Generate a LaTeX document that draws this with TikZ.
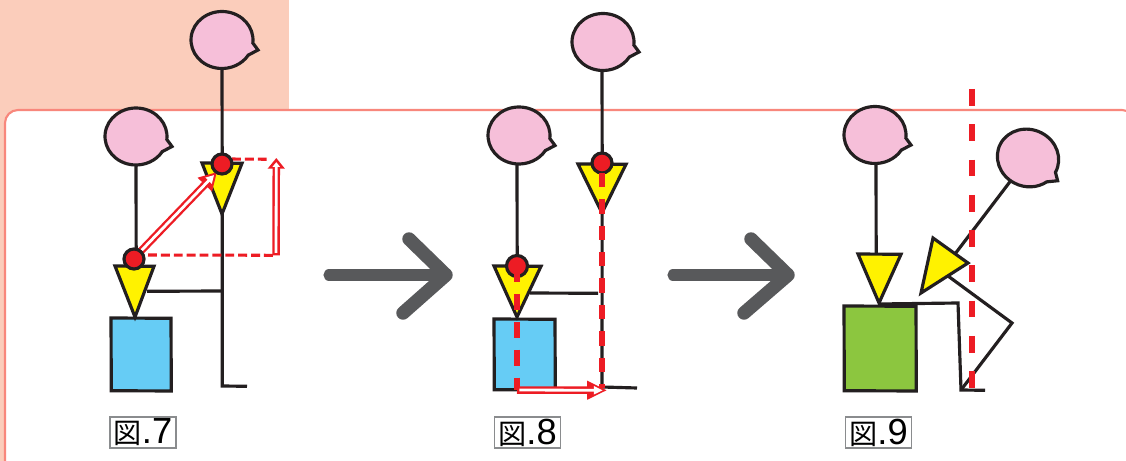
\documentclass[tikz,border=0pt]{standalone}
\usepackage{fontspec}
\setmainfont{Liberation Sans}
\newfontfamily\cjk{Noto Sans CJK JP}
\usetikzlibrary{arrows.meta, shapes.geometric}

\definecolor{peach}{HTML}{FBCDBB}
\definecolor{panelline}{HTML}{F8877C}
\definecolor{headpink}{HTML}{F6BFD9}
\definecolor{wedge}{HTML}{FFF200}
\definecolor{seatblue}{HTML}{66CCF5}
\definecolor{seatgreen}{HTML}{8CC63F}
\definecolor{markred}{HTML}{ED1C24}
\definecolor{inkline}{HTML}{231F20}
\definecolor{arrowgray}{HTML}{58595B}
\definecolor{framegray}{HTML}{8A8C8E}

\tikzset{
  body/.style={draw=inkline, line width=2.7pt},
  seat/.style={draw=inkline, line width=2.7pt},
  wedgeshape/.style={body, fill=wedge, line join=miter},
  headnode/.style={ellipse, inner sep=0pt, minimum width=1.86cm, minimum height=1.71cm},
  joint/.style={circle, draw=inkline, line width=2.7pt, fill=markred, inner sep=0pt, minimum size=0.6cm},
  thinred/.style={draw=markred, line width=2.6pt, dash pattern=on 7.6pt off 3.4pt},
  plumb/.style={draw=markred, line width=4.4pt},
  hollow/.style 2 args={draw=markred, line width=6.4pt, -{Triangle[length=#1,width=#2]},
    postaction={draw=white, line width=2.4pt, shorten >=3.6pt, shorten <=2pt,
      -{Triangle[length=#1,width=#2,scale=0.45]}}},
  bigarrow/.style={draw=arrowgray, line cap=round, line join=round},
  figlabel/.style={draw=framegray, line width=0.9pt, fill=white, inner sep=0pt,
    minimum width=1.98cm, minimum height=0.93cm},
}

% 带尾巴的头部:名称、圆心、旋转角
\newcommand{\headshape}[3]{
  \node[headnode, rotate=#3] (#1) at (#2) {};
  \draw[body, fill=headpink, x=0.03cm, y=0.03cm, shift={(#1)}, rotate=#3]
    (-6:31 and 28.5) arc[start angle=-6, delta angle=334, x radius=31, y radius=28.5]
    -- (36,-10) -- cycle;
}
\newcommand{\figtext}[1]{{\cjk\fontsize{24}{24}\selectfont 図}{\fontsize{31}{31}\selectfont .#1}}

\begin{document}
\begin{tikzpicture}[x=0.03cm, y=-0.03cm]
  \useasboundingbox[clip] (0,0) rectangle (1126,461);

  % 底色与面板
  \fill[peach] (0,0) rectangle (289,125);
  \fill[peach] (0,0) rectangle (5,461);
  \draw[panelline, line width=1.8pt, fill=white, rounded corners=0.39cm]
    (5,480) -- (5,110) -- (1135,110) -- (1135,480);

  % 图7
  \headshape{headA}{222,40}{0}
  \headshape{headB}{136,136.5}{0}
  \coordinate (wedgeA) at (222.2,163);
  \coordinate (kneeA) at (222,291);
  \coordinate (heelA) at (222.3,386);
  \coordinate (toeA) at (247,386.3);
  \draw[body] (headA.south) -- (wedgeA);
  \draw[body] (wedgeA) -- (heelA) -- (toeA);
  \draw[body] (headB.south) -- (136.2,262);
  \draw[body] (147,291.3) -- (kneeA);
  \draw[seat, fill=seatblue] (111,318) -- (171,318.3) -- (171.3,391) -- (111.3,390.7) -- cycle;
  \draw[wedgeshape] (202,163) -- (242,163.3) -- (222,214) -- cycle;
  \draw[wedgeshape] (115,266) -- (154,266.3) -- (135,317) -- cycle;
  % 红色虚线与空心箭头
  \coordinate (startB) at (148,255);
  \coordinate (cornerA) at (276,255.3);
  \coordinate (topA) at (276.3,158);
  \coordinate (tipA) at (217,172);
  \coordinate (tailA) at (140,252);
  \draw[thinred] (startB) -- (cornerA);
  \draw[thinred] (232,159) -- (270,159.3);
  \draw[hollow={9pt}{14pt}] (cornerA) -- (topA);
  \draw[hollow={15pt}{16pt}] (tailA) -- (tipA);
  \node[joint] (jointA) at (222,164) {};
  \node[joint] (jointB) at (134,259) {};
  \node[figlabel] (labelA) at (143,432.5) {\figtext{7}};

  % 中间的大箭头
  \draw[bigarrow, line width=9.5pt] (329,275) -- (446,275);
  \draw[bigarrow, line width=11.5pt] (409,239) -- (446,275) -- (403,313);
  \draw[bigarrow, line width=9.5pt] (673,275) -- (788,275);
  \draw[bigarrow, line width=11.5pt] (751,239) -- (788,275) -- (744,313);

  % 图8
  \headshape{headC}{603,42}{0}
  \headshape{headD}{519,135.5}{0}
  \coordinate (wedgeC) at (602.2,163);
  \coordinate (heelC) at (602,387);
  \coordinate (toeC) at (637,388);
  \draw[body] (602,71) -- (wedgeC);
  \draw[body] (wedgeC) -- (heelC) -- (toeC);
  \draw[body] (517,164) -- (517.2,266);
  \draw[body] (530,293) -- (598,293.3);
  \draw[seat, fill=seatblue] (494,319) -- (555,319.3) -- (555.3,390) -- (494.3,389.7) -- cycle;
  \draw[wedgeshape] (578,164) -- (626,164.3) -- (602,213) -- cycle;
  \draw[wedgeshape] (494,266) -- (541,266.3) -- (517,317) -- cycle;
  \node[joint] (jointC) at (602,163) {};
  \node[joint, minimum size=0.63cm] (jointD) at (517,266) {};
  \coordinate (baseD) at (517,390);
  \coordinate (arrowD) at (607,390.3);
  \draw[plumb, dash pattern=on 12.3pt off 10.2pt] (602,173) -- (602,388);
  \draw[plumb, dash pattern=on 14pt off 9.8pt] (jointD.center) -- (baseD);
  \draw[hollow={17pt}{15pt}] (baseD) -- (arrowD);
  \node[figlabel] (labelB) at (527.5,432.5) {\figtext{8}};

  % 图9
  \headshape{headE}{875,135}{0}
  \coordinate (neckF) at (955,254);
  \coordinate (hipF) at (958,303);
  \coordinate (heelF) at (961,390);
  \coordinate (toeF) at (985,390.3);
  \coordinate (kneeF) at (1012,323);
  \coordinate (seatF) at (879,304);
  \draw[body] (876,164) -- (876.2,256);
  \draw[seat, fill=seatgreen] (844,306) -- (916,306.3) -- (916.3,391) -- (844.3,390.7) -- cycle;
  \draw[body, line join=miter] (seatF) -- (hipF) -- (heelF) -- (toeF);
  \draw[body, line join=miter] (heelF) -- (kneeF) -- (948,276);
  \draw[wedgeshape] (858,254) -- (901,254.3) -- (879,303) -- cycle;
  \draw[wedgeshape] (933,238) -- (968,263) -- (921,293) -- cycle;
  \headshape{headF}{1028,158}{-22}
  \draw[body] (neckF) -- (headF);
  \draw[plumb, dash pattern=on 14.4pt off 15.7pt] (972,89) -- (972,388);
  \node[figlabel] (labelC) at (878.5,432.5) {\figtext{9}};
\end{tikzpicture}
\end{document}
